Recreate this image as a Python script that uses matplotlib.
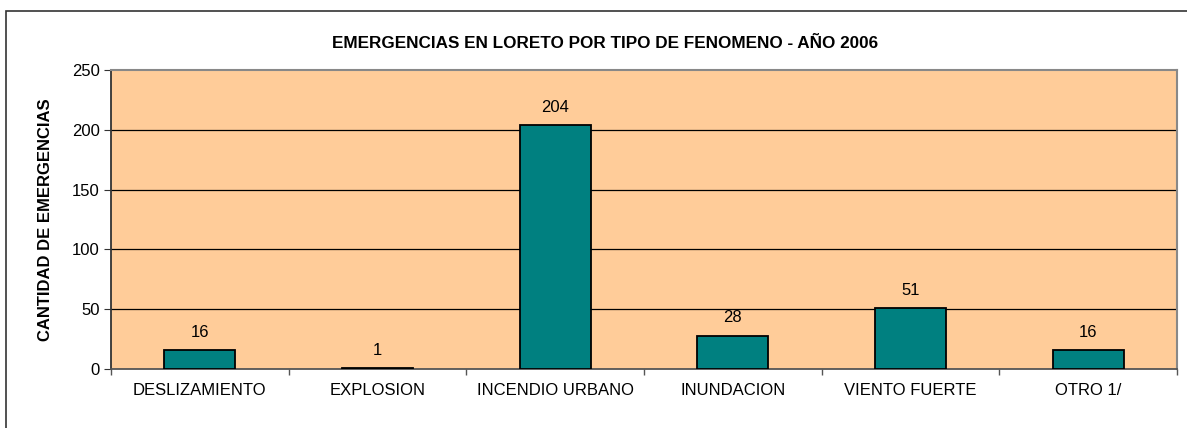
import matplotlib
matplotlib.use("Agg")
import matplotlib.pyplot as plt
from matplotlib.patches import Rectangle

categories = ["DESLIZAMIENTO", "EXPLOSION", "INCENDIO URBANO", "INUNDACION", "VIENTO FUERTE", "OTRO 1/"]
values = [16, 1, 204, 28, 51, 16]
yticks = [0, 50, 100, 150, 200, 250]
title = "EMERGENCIAS EN LORETO POR TIPO DE FENOMENO - AÑO 2006"
ylabel = "CANTIDAD DE EMERGENCIAS"

plt.rcParams['font.family'] = ['Liberation Sans', 'DejaVu Sans']

W, H = 1187, 428
fig = plt.figure(figsize=(W / 100, H / 100), dpi=100)
fig.patch.set_facecolor('white')

# outer chart border (only top and left visible in the crop)
fig.add_artist(Rectangle((6 / W, -0.1), 1.2, 1 - 11 / H + 0.1, transform=fig.transFigure,
                         fill=False, edgecolor='#333333', linewidth=1.2))

ax = fig.add_axes([111 / W, 1 - 369 / H, (1177 - 111) / W, (369 - 70) / H])
ax.set_facecolor('#FFCC99')

x = list(range(len(categories)))
ax.bar(x, values, width=0.4, color='#008080', edgecolor='black', linewidth=1.3, zorder=3)

ax.set_xlim(-0.5, len(categories) - 0.5)
ax.set_ylim(0, 250)
ax.set_yticks(yticks)
ax.set_yticklabels([str(v) for v in yticks], fontsize=12)
for v in yticks[1:-1]:
    ax.axhline(v, color='black', linewidth=0.9, zorder=1)

ax.set_xticks(x)
ax.set_xticklabels(categories, fontsize=12)
ax.tick_params(axis='x', which='major', length=0, pad=10)
ax.set_xticks([i - 0.5 for i in range(len(categories) + 1)], minor=True)
ax.tick_params(axis='x', which='minor', length=4, color='#555555', width=1)
ax.tick_params(axis='y', length=5, pad=3, color='#333333')

for s in ['top', 'right']:
    ax.spines[s].set_color('#888888')
    ax.spines[s].set_linewidth(1.5)
ax.spines['left'].set_color('#333333')
ax.spines['left'].set_linewidth(1.3)
ax.spines['bottom'].set_color('#555555')
ax.spines['bottom'].set_linewidth(1.3)

for xi, v in zip(x, values):
    ax.annotate(str(v), (xi, v), xytext=(0, 9.5), textcoords='offset points',
                ha='center', va='baseline', fontsize=12)

ax.set_ylabel(ylabel, fontsize=12, fontweight='bold')
ax.yaxis.set_label_coords((53 - 111) / (1177 - 111), 0.5)

fig.text(605 / W, 1 - 48 / H, title, ha='center', va='baseline', fontsize=12.3, fontweight='bold')

fig.savefig('out.png', dpi=100)
